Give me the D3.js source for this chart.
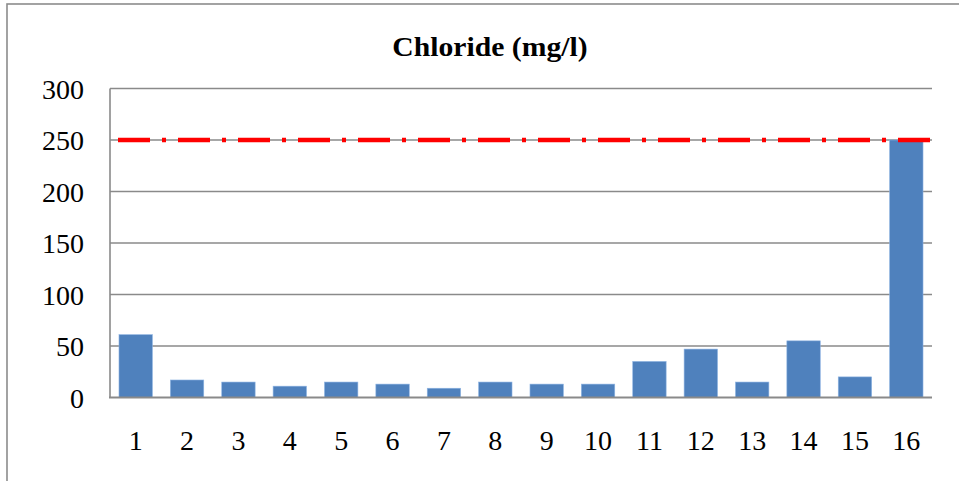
<!DOCTYPE html>
<html>
<head>
<meta charset="utf-8">
<script src="https://cdn.jsdelivr.net/npm/d3@7"></script>
<style>
  html, body { margin: 0; padding: 0; background: #fff; }
  svg { display: block; }
</style>
</head>
<body>
<svg id="chart" width="959" height="481"></svg>
<script>
// Sampling sites and chloride concentrations (mg/l)
const sites = ["1","2","3","4","5","6","7","8","9","10","11","12","13","14","15","16"];
const chloride = [61, 17, 15, 11, 15, 13, 9, 15, 13, 13, 35, 47, 15, 55, 20, 250];
// Permissible limit for chloride
const limitValue = 250;
const yTicks = [0, 50, 100, 150, 200, 250, 300];
const titleText = "Chloride (mg/l)";

const serif = "'Liberation Serif', 'Times New Roman', serif";
const svg = d3.select("#chart");
const W = 959, H = 481;
const plot = { left: 110, right: 932, top: 88.5, bottom: 397.5 };

// Outer chart frame
svg.append("rect")
  .attr("x", 7).attr("y", 4)
  .attr("width", W + 20).attr("height", H + 20)
  .attr("fill", "#fff")
  .attr("stroke", "#8c8c8c").attr("stroke-width", 1.6);

const x = d3.scaleBand()
  .domain(sites)
  .range([plot.left, plot.right])
  .paddingInner(0.35)
  .paddingOuter(0.175);

const y = d3.scaleLinear()
  .domain([0, 300])
  .range([plot.bottom, plot.top]);

// Horizontal gridlines
svg.append("g")
  .selectAll("line")
  .data(yTicks.filter(d => d > 0))
  .join("line")
  .attr("x1", plot.left).attr("x2", plot.right)
  .attr("y1", d => y(d)).attr("y2", d => y(d))
  .attr("stroke", "#8a8a8a").attr("stroke-width", 1.4);

// Bars
svg.append("g")
  .selectAll("rect")
  .data(chloride)
  .join("rect")
  .attr("x", (d, i) => x(sites[i]))
  .attr("width", x.bandwidth())
  .attr("y", d => y(d))
  .attr("height", d => y(0) - y(d))
  .attr("fill", "#4F81BD")
  .attr("stroke", "#8db3e2").attr("stroke-width", 0.6);

// Limit line (dash-dot)
svg.append("line")
  .attr("x1", plot.left).attr("x2", plot.right)
  .attr("y1", y(limitValue)).attr("y2", y(limitValue))
  .attr("stroke", "#FF0000").attr("stroke-width", 4.5)
  .attr("stroke-dasharray", "32,12,4,12")
  .attr("stroke-dashoffset", 52);

// Axis lines
svg.append("line")
  .attr("x1", plot.left).attr("x2", plot.left)
  .attr("y1", plot.top).attr("y2", plot.bottom)
  .attr("stroke", "#8a8a8a").attr("stroke-width", 1.6);
svg.append("line")
  .attr("x1", plot.left - 1).attr("x2", plot.right)
  .attr("y1", plot.bottom).attr("y2", plot.bottom)
  .attr("stroke", "#8a8a8a").attr("stroke-width", 2.2);

// Y axis labels
const yAxis = d3.axisLeft(y).tickValues(yTicks).tickSize(0).tickPadding(0).tickFormat(d3.format("d"));
const gy = svg.append("g").attr("transform", `translate(${plot.left - 26},0)`).call(yAxis);
gy.attr("font-family", serif).attr("font-size", 28);
gy.select(".domain").remove();
gy.selectAll("text")
  .attr("fill", "#000")
  .attr("dy", "0.34em");

// X axis labels
const xAxis = d3.axisBottom(x).tickSize(0).tickPadding(0);
const gx = svg.append("g").attr("transform", `translate(0,${plot.bottom + 43})`).call(xAxis);
gx.attr("font-family", serif).attr("font-size", 28);
gx.select(".domain").remove();
gx.selectAll("text")
  .attr("fill", "#000")
  .attr("dy", "0.34em");

// Title
svg.append("text")
  .attr("transform", "translate(490,56) scale(1.06,1)")
  .attr("text-anchor", "middle")
  .attr("font-family", serif)
  .attr("font-size", 28)
  .attr("font-weight", "bold")
  .attr("fill", "#000")
  .text(titleText);
</script>
</body>
</html>
